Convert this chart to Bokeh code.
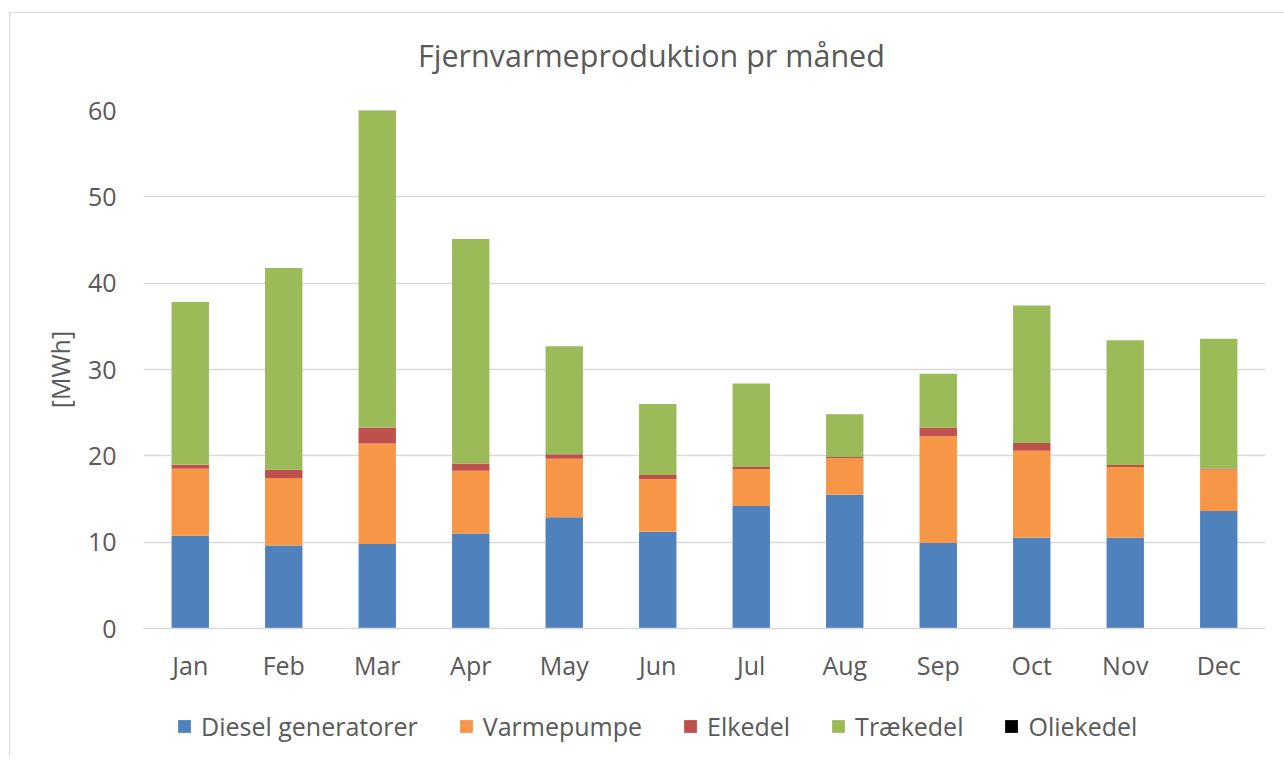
from bokeh.plotting import figure
from bokeh.models import FixedTicker, Range1d, Div
from bokeh.layouts import column
from bokeh.embed import file_html
from bokeh.resources import INLINE

months = ["Jan", "Feb", "Mar", "Apr", "May", "Jun", "Jul", "Aug", "Sep", "Oct", "Nov", "Dec"]
diesel = [10.75, 9.6, 9.8, 11.0, 12.9, 11.2, 14.2, 15.5, 9.9, 10.5, 10.5, 13.6]
varmepumpe = [7.76, 7.83, 11.63, 7.26, 6.75, 6.11, 4.28, 4.21, 12.36, 10.08, 8.22, 4.82]
elkedel = [0.46, 0.97, 1.85, 0.85, 0.54, 0.46, 0.23, 0.15, 1.0, 0.92, 0.23, 0.11]
traekedel = [18.85, 23.36, 36.76, 26.01, 12.51, 8.22, 9.66, 4.95, 6.26, 15.92, 14.45, 15.02]
oliekedel = [0, 0, 0, 0, 0, 0, 0, 0, 0, 0, 0, 0]

series = ["Diesel generatorer", "Varmepumpe", "Elkedel", "Trækedel", "Oliekedel"]
colors = ["#4F81BD", "#F79646", "#C0504D", "#9BBB59", "#000000"]
y_ticks = [0, 10, 20, 30, 40, 50, 60]
title_text = "Fjernvarmeproduktion pr måned"

FONT = "Open Sans"
TXT = "#595959"
FS = "25px"

data = {"months": months, series[0]: diesel, series[1]: varmepumpe,
        series[2]: elkedel, series[3]: traekedel, series[4]: oliekedel}

head = Div(text=('<div style="font-family:\'Open Sans\';font-size:30.5px;color:#595959;'
                 'padding:16px 0 0 403px;white-space:nowrap;line-height:normal">'
                 + title_text + '</div>'), width=1270, height=67)

p = figure(x_range=months, y_range=Range1d(0, 60), width=1270, height=600,
           output_backend="svg", toolbar_location=None,
           min_border_left=133, min_border_right=15, min_border_top=20, min_border_bottom=62)

p.vbar_stack(series, x="months", width=0.4, color=colors, source=data, line_color=None)

p.outline_line_color = None
p.xgrid.grid_line_color = None
p.ygrid.grid_line_color = "#d9d9d9"
p.ygrid.grid_line_width = 1.3
p.yaxis.ticker = FixedTicker(ticks=y_ticks)

for ax in (p.xaxis[0], p.yaxis[0]):
    ax.major_tick_line_color = None
    ax.minor_tick_line_color = None
    ax.major_label_text_font = FONT
    ax.major_label_text_font_size = FS
    ax.major_label_text_color = TXT

p.xaxis.axis_line_color = "#d9d9d9"
p.xaxis.axis_line_width = 1.3
p.xaxis.major_label_standoff = 13
p.yaxis.axis_line_color = None
p.yaxis.major_label_standoff = 21
p.yaxis.axis_label = "[MWh]"
p.yaxis.axis_label_text_font = FONT
p.yaxis.axis_label_text_font_size = FS
p.yaxis.axis_label_text_font_style = "normal"
p.yaxis.axis_label_text_color = TXT
p.yaxis.axis_label_standoff = 8

# legend strip: a separate figure (so the legend is not clipped by the plot frame);
# its renderers are hidden, only the legend shows
lf = figure(x_range=months, y_range=Range1d(-2, -1), width=1270, height=66,
            output_backend="svg", toolbar_location=None,
            x_axis_type=None, y_axis_type=None,
            min_border_left=133, min_border_right=15, min_border_top=0, min_border_bottom=0)
lf.outline_line_color = None
lf.grid.grid_line_color = None
lrs = lf.vbar_stack(series, x="months", width=0.4, color=colors, source=data,
                    line_color=None, legend_label=series)
for r in lrs:
    r.visible = False

lg = lf.legend[0]
lg.orientation = "horizontal"
lg.location = (33, 13)
lg.border_line_color = None
lg.background_fill_alpha = 0
lg.padding = 0
lg.margin = 0
lg.spacing = 40
lg.glyph_width = 16
lg.glyph_height = 16
lg.label_standoff = 9
lg.label_text_font = FONT
lg.label_text_font_size = FS
lg.label_text_color = TXT

layout = column(head, p, lf, spacing=0,
                styles={"border-top": "1px solid #d9d9d9", "border-left": "1px solid #d9d9d9",
                        "margin-left": "9px", "margin-top": "12px"})
open("out.html", "w").write(file_html(layout, INLINE))
